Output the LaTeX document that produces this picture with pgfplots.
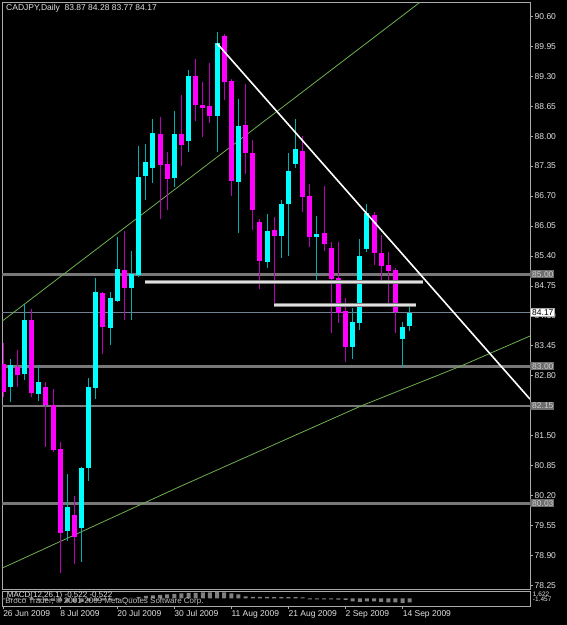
\documentclass[border=0pt]{standalone}
\usepackage{pgfplots}
\pgfplotsset{compat=1.18}
\usepackage{pgfplotstable}
\usepackage{fontspec}
\setmainfont{Liberation Sans}
\definecolor{upc}{RGB}{0,255,255}
\definecolor{dnc}{RGB}{255,0,255}
\definecolor{upw}{RGB}{0,175,175}
\definecolor{dnw}{RGB}{185,0,185}
\definecolor{frm}{RGB}{170,170,170}
\definecolor{hl}{RGB}{120,120,120}
\definecolor{bidl}{RGB}{112,128,144}
\definecolor{trg}{RGB}{110,175,80}
\definecolor{txt}{RGB}{225,225,225}
\definecolor{boxf}{RGB}{110,110,110}
\definecolor{boxt}{RGB}{205,205,205}
\definecolor{mh}{RGB}{128,128,128}

% up candles: index open high low close
\pgfplotstableread{
i o h l c
1 82.56 83.16 82.22 83.02
3 82.84 84.36 82.71 84.01
5 82.40 83.02 82.26 82.67
9 79.43 80.66 79.20 79.95
11 79.49 80.81 78.75 80.79
12 80.80 82.74 80.52 82.55
13 82.53 84.91 82.29 84.62
15 83.84 84.62 83.47 84.49
16 84.43 85.81 84.40 85.11
18 84.71 85.51 84.01 85.00
19 84.98 87.78 84.95 87.12
20 87.13 87.83 86.61 87.43
21 87.30 88.37 86.99 88.06
24 87.08 88.55 86.89 88.04
26 87.90 89.43 87.65 89.31
30 88.44 90.25 87.65 90.01
33 87.00 88.80 85.89 88.22
37 85.27 86.31 85.14 85.95
39 85.84 86.61 85.35 86.52
40 86.53 87.63 85.40 87.24
41 87.39 88.37 87.30 87.71
44 85.82 86.27 84.86 85.87
49 83.43 84.26 83.16 83.97
50 83.94 85.77 83.78 85.40
51 85.54 86.53 85.49 86.32
56 83.59 83.97 82.99 83.85
57 83.87 84.28 83.77 84.17
}\up

% down candles
\pgfplotstableread{
i o h l c
0 83.05 83.50 82.34 82.45
2 82.98 83.36 82.55 82.81
4 84.01 84.24 82.33 82.42
6 82.56 82.67 81.26 82.16
7 82.16 82.50 81.15 81.18
8 81.21 81.36 78.52 79.38
10 79.78 80.19 78.71 79.29
14 84.59 84.62 83.28 83.85
17 85.09 85.93 84.00 84.71
22 88.04 88.42 86.21 87.37
23 87.39 87.66 86.40 87.06
25 88.05 88.89 87.36 87.81
27 89.31 89.67 88.33 88.67
28 88.67 89.18 87.99 88.62
29 88.65 89.59 88.29 88.44
31 90.18 90.22 88.78 89.18
32 89.20 89.23 86.71 87.03
34 88.24 89.12 87.18 87.63
35 87.63 87.92 85.96 86.40
36 86.14 86.19 84.68 85.29
38 85.96 86.24 84.36 85.83
42 87.68 88.01 86.36 86.67
43 86.70 86.96 85.59 85.80
45 85.90 86.92 85.51 85.66
46 85.58 85.71 83.73 84.89
47 84.91 85.71 83.94 84.15
48 84.20 84.48 83.10 83.43
52 86.29 86.36 85.20 85.47
53 85.46 85.85 84.84 85.18
54 85.20 85.49 84.37 85.08
55 85.09 85.13 83.73 84.19
}\dn

% MACD histogram, in pixels above/below the zero line of the small window
\pgfplotstableread{
i v
0 -1
1 -1
2 -1
3 -1
4 -1.5
5 -1.5
6 -2
7 -2.5
8 -3
9 -3.5
10 -3.5
11 -3.5
12 -3
13 -2.5
14 -2
15 -1.5
16 -1
17 -0.5
18 0.5
19 1.5
20 2.5
21 3
22 3.5
23 4
24 4.5
25 5
26 5.5
27 5.5
28 6
29 6
30 6.5
31 6
32 5
33 4
34 2
35 1.5
36 1.5
37 1.5
38 1.2
39 1.2
40 1.2
41 1.2
42 1
43 -1
44 -1
45 -1
46 -1
47 -1.2
48 -1.5
49 -3
50 -3.5
51 -3
52 -3
53 -3.5
54 -4
55 -4
56 -4.5
57 -4
}\macd

\begin{document}
\begin{tikzpicture}
\fill[black] (0pt,0pt) rectangle (567pt,625pt);
\begin{axis}[
  at={(2pt,622.7pt)}, anchor=north west, scale only axis,
  width=528pt, height=587pt,
  xmin=-0.15, xmax=73.86, ymin=78.162, ymax=90.904,
  axis line style={draw=frm, line width=0.8pt},
  xtick=\empty,
  ytick={78.25,78.90,79.55,80.20,80.85,81.50,82.80,83.45,84.10,84.75,85.40,86.05,86.70,87.35,88.00,88.65,89.30,89.95,90.60},
  ytick pos=right, yticklabel pos=right,
  tick align=outside, major tick length=3pt,
  ytick style={draw=frm, line width=0.6pt},
  yticklabel style={font=\fontsize{8.5}{9}\selectfont, text=txt, inner sep=1.5pt,
    /pgf/number format/.cd, fixed, fixed zerofill, precision=2, assume math mode=true},
  clip mode=individual,
]
% horizontal levels
\addplot[hl, line width=2.6pt] coordinates {(-0.15,85.00) (73.86,85.00)};
\addplot[hl, line width=2.6pt] coordinates {(-0.15,83.00) (73.86,83.00)};
\addplot[hl, line width=2.0pt] coordinates {(-0.15,82.15) (73.86,82.15)};
\addplot[hl, line width=2.6pt] coordinates {(-0.15,80.03) (73.86,80.03)};
\addplot[bidl, line width=0.8pt] coordinates {(-0.15,84.17) (73.86,84.17)};
% green trend lines
\addplot[trg, line width=0.8pt] coordinates {(-0.15,83.98) (58.4,90.90)};
\addplot[trg, line width=0.8pt] coordinates {(-0.15,78.62) (24.9,80.40) (50.3,82.15) (63.9,82.99) (73.86,83.66)};
% wicks
\addplot[draw=none, mark=none, forget plot, error bars/.cd, y dir=plus, y explicit, error mark=none,
  error bar style={draw=upw, line width=1pt}]
  table[x=i, y=l, y error plus expr=\thisrow{h}-\thisrow{l}] {\up};
\addplot[draw=none, mark=none, forget plot, error bars/.cd, y dir=plus, y explicit, error mark=none,
  error bar style={draw=dnw, line width=1pt}]
  table[x=i, y=l, y error plus expr=\thisrow{h}-\thisrow{l}] {\dn};
% bodies
\addplot[draw=none, mark=none, forget plot, error bars/.cd, y dir=plus, y explicit, error mark=none,
  error bar style={draw=upc, line width=5pt}]
  table[x=i, y=o, y error plus expr=\thisrow{c}-\thisrow{o}] {\up};
\addplot[draw=none, mark=none, forget plot, error bars/.cd, y dir=plus, y explicit, error mark=none,
  error bar style={draw=dnc, line width=5pt}]
  table[x=i, y=c, y error plus expr=\thisrow{o}-\thisrow{c}] {\dn};
% white resistance bars
\addplot[gray, line width=4pt] coordinates {(19.9,84.83) (58.9,84.83)};
\addplot[white!88!black, line width=2.4pt] coordinates {(19.9,84.83) (58.9,84.83)};
\addplot[gray, line width=4pt] coordinates {(38.0,84.33) (57.9,84.33)};
\addplot[white!88!black, line width=2.4pt] coordinates {(38.0,84.33) (57.9,84.33)};
% white down trend line
\addplot[white, line width=1.6pt] coordinates {(30,90.01) (73.86,82.29)};
% price boxes
\node[fill=boxf, text=boxt, inner sep=1pt, anchor=west, font=\fontsize{8.5}{9}\selectfont] at (axis cs:73.86,85.00) {\hspace{1pt}85.00};
\node[fill=boxf, text=boxt, inner sep=1pt, anchor=west, font=\fontsize{8.5}{9}\selectfont] at (axis cs:73.86,83.00) {\hspace{1pt}83.00};
\node[fill=boxf, text=boxt, inner sep=1pt, anchor=west, font=\fontsize{8.5}{9}\selectfont] at (axis cs:73.86,82.15) {\hspace{1pt}82.15};
\node[fill=boxf, text=boxt, inner sep=1pt, anchor=west, font=\fontsize{8.5}{9}\selectfont] at (axis cs:73.86,80.03) {\hspace{1pt}80.03};
\node[fill=white, draw=frm, text=black, inner sep=1pt, anchor=west, font=\fontsize{8.5}{9}\selectfont] at (axis cs:73.86,84.17) {\hspace{1pt}84.17};
\end{axis}

\begin{axis}[
  at={(2pt,34pt)}, anchor=north west, scale only axis,
  width=528pt, height=15pt,
  xmin=-0.15, xmax=73.86, ymin=-7.7, ymax=7.3,
  axis line style={draw=frm, line width=0.8pt},
  ytick=\empty,
  xtick={0,8,16,24,32,40,48,56},
  xticklabels={26 Jun 2009,8 Jul 2009,20 Jul 2009,30 Jul 2009,11 Aug 2009,21 Aug 2009,2 Sep 2009,14 Sep 2009},
  xtick pos=bottom, tick align=outside, major tick length=3pt,
  xtick style={draw=frm, line width=0.6pt},
  xticklabel style={font=\fontsize{8.5}{9}\selectfont, text=txt, anchor=north west, xshift=-1.5pt, inner sep=1.5pt},
  clip mode=individual,
]
\addplot[ybar, bar width=4pt, fill=mh, draw=none] table[x=i, y=v] {\macd};
\node[anchor=west, text=txt!85!black, font=\fontsize{8}{9}\selectfont, inner sep=0pt] at (axis cs:0.3,-3.2) {Broco Trader, \textcopyright{} 2001-2009 MetaQuotes Software Corp.};
\node[anchor=west, text=txt, font=\fontsize{8}{9}\selectfont, inner sep=0pt] at (axis cs:0.5,2.7) {MACD(12,26,1) -0.522 -0.522};
\node[anchor=west, text=txt, font=\fontsize{6.5}{7}\selectfont, inner sep=0pt] at (axis cs:74.25,4.0) {1.622};
\node[anchor=west, text=txt, font=\fontsize{6.5}{7}\selectfont, inner sep=0pt] at (axis cs:74.25,-1.2) {-1.457};
\end{axis}
\node[anchor=west, text=txt, font=\fontsize{8.5}{9}\selectfont, inner sep=0pt] at (6pt,617pt) {CADJPY,Daily\ \ 83.87 84.28 83.77 84.17};
\end{tikzpicture}
\end{document}
